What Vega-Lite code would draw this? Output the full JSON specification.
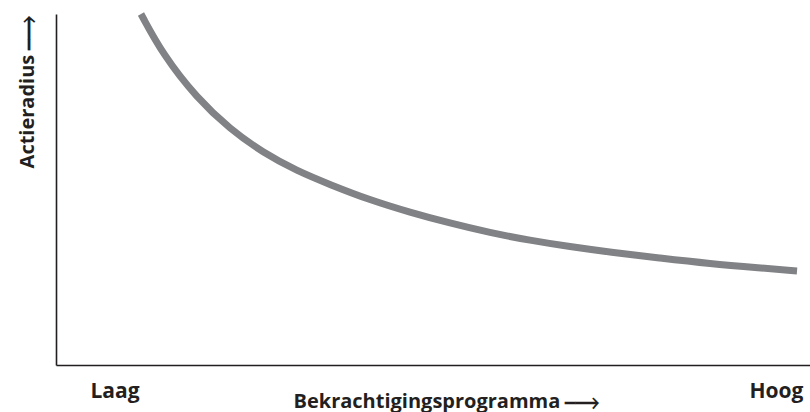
{
  "$schema": "https://vega.github.io/schema/vega-lite/v6.json",
  "width": 754,
  "height": 351,
  "autosize": {"type": "none"},
  "padding": {"left": 56, "top": 14, "right": 0, "bottom": 47},
  "background": "white",
  "config": {"view": {"stroke": null}},
  "data": {
    "values": [
      {"x": 11.27, "y": 100.0},
      {"x": 14.19, "y": 88.4},
      {"x": 18.70, "y": 76.0},
      {"x": 23.08, "y": 67.2},
      {"x": 27.45, "y": 60.5},
      {"x": 31.96, "y": 55.3},
      {"x": 36.34, "y": 51.4},
      {"x": 41.64, "y": 47.0},
      {"x": 46.95, "y": 43.5},
      {"x": 52.25, "y": 40.4},
      {"x": 57.56, "y": 37.7},
      {"x": 62.86, "y": 35.5},
      {"x": 68.17, "y": 33.7},
      {"x": 73.47, "y": 32.15},
      {"x": 80.11, "y": 30.45},
      {"x": 86.74, "y": 28.85},
      {"x": 93.37, "y": 27.65},
      {"x": 98.28, "y": 26.78}
    ]
  },
  "mark": {"type": "line", "color": "#808285", "strokeWidth": 7, "strokeCap": "butt", "interpolate": "basis", "clip": false},
  "encoding": {
    "x": {
      "field": "x",
      "type": "quantitative",
      "scale": {"domain": [0, 100], "nice": false, "zero": false},
      "axis": {
        "values": [4.51, 99.07],
        "labelExpr": "datum.value < 50 ? 'Laag' : 'Hoog'",
        "labelAlign": {"condition": {"test": "datum.value > 50", "value": "right"}, "value": "left"},
        "labelFont": "Open Sans",
        "labelFontWeight": "bold",
        "labelFontSize": 21,
        "labelColor": "#231f20",
        "labelBaseline": "alphabetic",
        "labelPadding": 32,
        "labelFlush": false,
        "labelOverlap": false,
        "ticks": false,
        "grid": false,
        "domainColor": "#231f20",
        "domainWidth": 1.6,
        "title": "Bekrachtigingsprogramma ⎯⟶",
        "titleFont": "Open Sans",
        "titleFontWeight": "bold",
        "titleFontSize": 20,
        "titleColor": "#231f20",
        "titleAlign": "left",
        "titleAnchor": null,
        "titleX": 237,
        "titleY": 42,
        "titleBaseline": "alphabetic"
      }
    },
    "y": {
      "field": "y",
      "type": "quantitative",
      "scale": {"domain": [0, 100], "nice": false, "zero": false},
      "axis": {
        "labels": false,
        "ticks": false,
        "grid": false,
        "domainColor": "#231f20",
        "domainWidth": 1.6,
        "title": "Actieradius ⎯⟶",
        "titleFont": "Open Sans",
        "titleFontWeight": "bold",
        "titleFontSize": 20,
        "titleColor": "#231f20",
        "titleAngle": 270,
        "titleAlign": "right",
        "titleX": -23,
        "titleY": 1,
        "titleBaseline": "alphabetic"
      }
    }
  }
}
